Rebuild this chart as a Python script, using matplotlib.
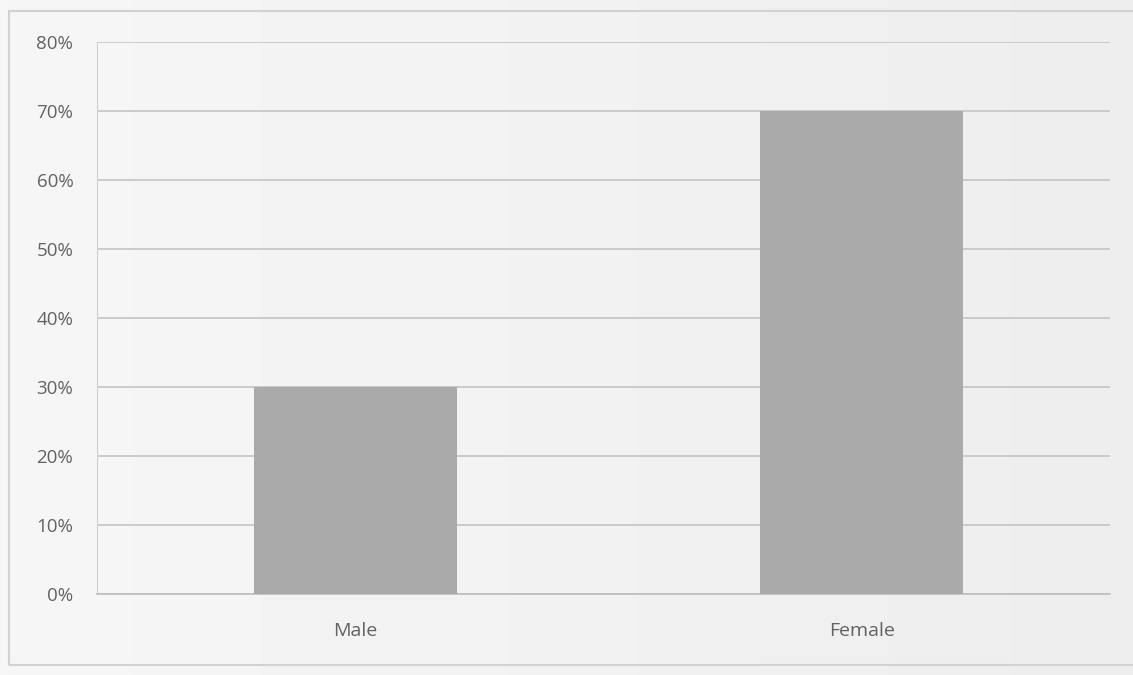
import numpy as np
import matplotlib
matplotlib.use("Agg")
import matplotlib.pyplot as plt
from matplotlib.patches import Rectangle
from matplotlib.ticker import FuncFormatter

# gender share
categories = ["Male", "Female"]
shares = [30, 70]
y_ticks = [0, 10, 20, 30, 40, 50, 60, 70, 80]

plt.rcParams['font.family'] = ['Open Sans', 'DejaVu Sans']

fig = plt.figure(figsize=(11.33, 6.75), dpi=100)
fig.patch.set_facecolor("#ececec")

# soft background shading
bg = fig.add_axes([0, 0, 1, 1], zorder=-10)
grad = np.linspace(0.965, 0.93, 256).reshape(1, -1)
bg.imshow(np.repeat(grad, 2, axis=0), cmap="gray", vmin=0, vmax=1,
          aspect="auto", extent=[0, 1, 0, 1])
bg.set_axis_off()

# outer chart frame
fig.patches.append(Rectangle((0.008, 0.015), 0.995, 0.968, transform=fig.transFigure,
                             fill=False, edgecolor="#d2d2d2", linewidth=1.5))

ax = fig.add_axes([0.0856, 0.12, 0.894, 0.8178])
ax.patch.set_alpha(0)

x = np.arange(len(categories))
ax.bar(x, shares, width=0.4, color="#aaaaaa", zorder=3)

ax.set_xlim(-0.51, 1.49)
ax.set_ylim(0, 80)
ax.set_yticks(y_ticks)
ax.yaxis.set_major_formatter(FuncFormatter(lambda v, p: f"{v:.0f}%"))
ax.set_xticks(x)
ax.set_xticklabels(categories)
ax.grid(axis="y", color="#c4c4c4", linewidth=1.2, zorder=0)

for s in ["top", "right"]:
    ax.spines[s].set_visible(False)
ax.spines["left"].set_color("#d0d0d0")
ax.spines["bottom"].set_color("#bdbdbd")
ax.spines["bottom"].set_linewidth(1.2)
ax.tick_params(axis="both", length=0, colors="#626262")
ax.tick_params(axis="y", pad=17, labelsize=13.5)
ax.tick_params(axis="x", pad=20, labelsize=14)

fig.savefig("out.png", dpi=100, facecolor=fig.get_facecolor())
